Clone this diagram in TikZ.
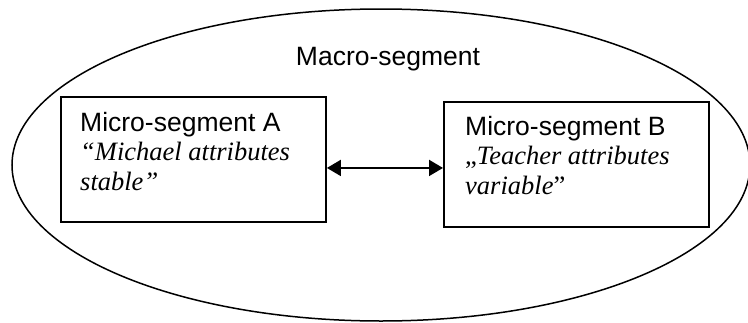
\documentclass[tikz,border=0pt]{standalone}
\usepackage{fontspec}
\setmainfont{Liberation Serif}
\setsansfont{Liberation Sans}
\usetikzlibrary{shapes.geometric,arrows.meta,positioning}

\newcommand{\quoteline}[1]{{\rmfamily\itshape #1}}

\tikzset{
    segbox/.style={draw, line width=1.9pt, minimum width=265pt, minimum height=125pt, anchor=north west},
    segtext/.style={anchor=north west, align=left, inner sep=0pt, font=\sffamily\fontsize{26.5}{29.5}\selectfont},
    biarrow/.style={arrows={Triangle[length=14pt,width=16pt]-Triangle[length=14pt,width=16pt]}, line width=1.9pt}
}

\begin{document}
\begin{tikzpicture}[x=1pt, y=-1pt]
    \useasboundingbox (0,0) rectangle (748,322);

    % Macro-segment
    \node[draw, ellipse, line width=1.5pt, minimum width=738pt, minimum height=312pt, inner sep=0pt] (macro) at (381,165) {};
    \node[anchor=base, font=\sffamily\fontsize{26.5}{30}\selectfont] (macrolabel) at (388,65) {Macro-segment};

    % Micro-segments
    \node[segbox] (microA) at (60,96) {};
    \node[segbox] (microB) at (443,101) {};
    \node[segtext] (textA) at (80,112) {Micro-segment A\\ \quoteline{“Michael attributes}\\ \quoteline{stable”}};
    \node[segtext] (textB) at (465,116) {Micro-segment B\\ {\rmfamily„}\quoteline{Teacher attributes}\\ \quoteline{variable}{\rmfamily”}};

    % Link
    \draw[biarrow] ([yshift=-8.5pt]microA.east) -- ([yshift=-8.5pt]microA.east -| microB.west);
\end{tikzpicture}
\end{document}
